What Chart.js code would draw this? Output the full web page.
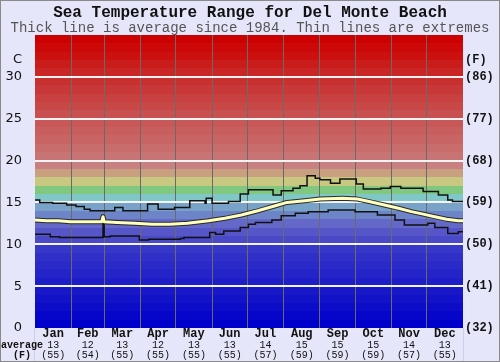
<!DOCTYPE html>
<html>
<head>
<meta charset="utf-8">
<script src="https://cdn.jsdelivr.net/npm/chart.js@4.4.0/dist/chart.umd.min.js"></script>
<style>
  html, body { margin: 0; padding: 0; background: #e6e6fa; }
  canvas { display: block; }
</style>
</head>
<body>
<canvas id="graph" width="500" height="362"></canvas>
<script>
// month labels and the monthly averages printed under them
const months = ['Jan', 'Feb', 'Mar', 'Apr', 'May', 'Jun', 'Jul', 'Aug', 'Sep', 'Oct', 'Nov', 'Dec'];
const monthAvgC = [13, 12, 13, 12, 13, 13, 14, 15, 15, 15, 14, 13];
const monthAvgF = [55, 54, 55, 55, 55, 55, 57, 59, 59, 59, 57, 55];
const monthStartDays = [0, 31, 59, 90, 120, 151, 181, 212, 243, 273, 304, 334, 365];

// axis ticks
const celsiusTicks = [0, 5, 10, 15, 20, 25, 30];
const fahrenheitTicks = [32, 41, 50, 59, 68, 77, 86];

// highest recorded (step line: value holds from the given day)
const maxDays  = [0, 4, 15, 27, 35, 42, 47, 68, 75, 96, 105, 119, 132, 145, 146, 151, 165, 175, 182, 203, 210, 220, 226, 232, 239, 243, 252, 260, 274, 280, 295, 303, 312, 331, 344, 352, 356, 365];
const maxTemps = [15.3, 15.0, 14.9, 14.7, 14.5, 14.2, 14.0, 14.4, 14.0, 14.8, 14.2, 14.4, 15.2, 14.9, 15.5, 14.9, 15.1, 16.0, 16.5, 15.9, 16.4, 16.7, 17.0, 18.2, 17.9, 17.7, 17.3, 17.8, 17.2, 16.6, 16.7, 16.9, 16.7, 16.3, 15.9, 15.3, 15.1, 15.1];

// lowest recorded
const minDays  = [0, 13, 21, 50, 58, 59, 64, 89, 97, 124, 127, 149, 154, 161, 175, 182, 188, 202, 210, 222, 233, 250, 273, 292, 307, 315, 335, 341, 352, 361, 365];
const minTemps = [11.2, 10.9, 10.8, 10.8, 12.4, 10.9, 11.0, 10.5, 10.6, 10.7, 10.8, 11.4, 11.2, 11.6, 12.0, 12.4, 12.6, 12.9, 13.4, 13.7, 13.9, 14.1, 13.9, 13.5, 12.9, 12.3, 12.5, 12.0, 11.3, 11.5, 11.5];

// average since 1984
const avgDays  = [0, 10, 20, 30, 45, 57, 58, 59, 70, 85, 100, 115, 130, 148, 162, 176, 190, 205, 215, 230, 243, 262, 275, 285, 298, 310, 321, 331, 341, 351, 361, 365];
const avgTemps = [12.9, 12.8, 12.8, 12.7, 12.7, 12.7, 13.3, 12.7, 12.6, 12.5, 12.4, 12.4, 12.5, 12.8, 13.1, 13.5, 14.0, 14.6, 15.0, 15.2, 15.4, 15.5, 15.4, 15.1, 14.7, 14.3, 13.9, 13.6, 13.3, 13.0, 12.8, 12.8];

// background colour for each 1 degree band, 0..35 C
const bandColors = [
  '#0000cc', '#0606ca', '#0c0cc9', '#1212c8', '#1818c8',
  '#1e1ec8', '#2424c8', '#2a2ac8', '#3030c8', '#3838c8',
  '#4a4ac8', '#5656c8', '#6468c8', '#6e84c8', '#78a2c8',
  '#80c8c8', '#80c880', '#c8c880', '#c8a080', '#c88080',
  '#c87474', '#c86c6c', '#c86464', '#c85e5e', '#c85858',
  '#c85050', '#c84848', '#c84040', '#c83838', '#c83030',
  '#ca2626', '#cb1c1c', '#cc1010', '#cc0808', '#cc0000'
];

const pts = (days, vals) => days.map((d, i) => ({ x: d, y: vals[i] }));
const monthMids = months.map((m, i) => (monthStartDays[i] + monthStartDays[i + 1]) / 2);
const cToF = {};
celsiusTicks.forEach((c, i) => { cToF[c] = fahrenheitTicks[i]; });

const bgPlugin = {
  id: 'bands',
  beforeDraw(chart) {
    const { ctx, chartArea: a, scales: { y } } = chart;
    ctx.save();
    ctx.fillStyle = '#e6e6fa';
    ctx.fillRect(0, 0, chart.width, chart.height);
    bandColors.forEach((c, i) => {
      const top = Math.round(y.getPixelForValue(i + 1));
      const bot = Math.round(y.getPixelForValue(i));
      ctx.fillStyle = c;
      ctx.fillRect(a.left, top, a.right - a.left, bot - top);
    });
    ctx.restore();
  },
  afterDraw(chart) {
    const { ctx, chartArea: a } = chart;
    ctx.save();
    ctx.strokeStyle = '#cfcfe6';
    ctx.lineWidth = 1;
    ctx.beginPath();
    ctx.moveTo(a.left - 0.5, a.bottom); ctx.lineTo(a.left - 0.5, chart.height);
    ctx.moveTo(a.right + 0.5, a.bottom); ctx.lineTo(a.right + 0.5, chart.height);
    ctx.stroke();
    ctx.fillStyle = '#111';
    ctx.font = 'bold 10px "Liberation Mono"';
    ctx.textAlign = 'center';
    ctx.textBaseline = 'middle';
    ctx.fillText('average', 22, 345);
    ctx.fillText('(F)', 22, 355);
    ctx.strokeStyle = '#8a8a8a';
    ctx.strokeRect(0.5, 0.5, chart.width - 1, chart.height - 1);
    ctx.restore();
  }
};

const lineBase = { pointRadius: 0, fill: false, xAxisID: 'x', yAxisID: 'y' };

new Chart('graph', {
  type: 'line',
  data: {
    datasets: [
      { ...lineBase, label: 'avg', data: pts(avgDays, avgTemps), borderColor: '#ffffbe', borderWidth: 3, borderJoinStyle: 'round', order: 0 },
      { ...lineBase, label: 'avg edge', data: pts(avgDays, avgTemps), borderColor: '#2a2a2a', borderWidth: 5, borderJoinStyle: 'round', order: 1 },
      { ...lineBase, label: 'max', data: pts(maxDays, maxTemps), stepped: true, borderColor: '#111', borderWidth: 1.5, order: 2 },
      { ...lineBase, label: 'min', data: pts(minDays, minTemps), stepped: true, borderColor: '#111', borderWidth: 1.5, order: 2 }
    ]
  },
  options: {
    responsive: false,
    animation: false,
    devicePixelRatio: 1,
    events: [],
    layout: { padding: 0 },
    plugins: {
      legend: { display: false },
      tooltip: { enabled: false },
      title: {
        display: true,
        text: 'Sea Temperature Range for Del Monte Beach',
        color: '#111',
        font: { family: '"Liberation Mono", monospace', size: 16, weight: 'bold', lineHeight: 1 },
        padding: { top: 5, bottom: 0 }
      },
      subtitle: {
        display: true,
        text: 'Thick line is average since 1984. Thin lines are extremes',
        color: '#555',
        font: { family: '"Liberation Mono", monospace', size: 14, lineHeight: 1 },
        padding: { top: 0, bottom: 0 }
      }
    },
    scales: {
      x: {
        type: 'linear', position: 'bottom', min: 0, max: 365, weight: 0,
        afterBuildTicks: s => { s.ticks = monthMids.map(v => ({ value: v })); },
        afterFit: s => { s.height = 12; },
        ticks: {
          autoSkip: false, maxRotation: 0, padding: 0, color: '#111',
          font: { family: '"Liberation Mono", monospace', size: 12, weight: 'bold', lineHeight: 1 },
          callback: (v, i) => months[i]
        },
        grid: { display: false, drawTicks: false },
        border: { display: false }
      },
      xv: {
        type: 'linear', position: 'bottom', min: 0, max: 365, weight: 1,
        afterBuildTicks: s => { s.ticks = monthMids.map(v => ({ value: v })); },
        afterFit: s => { s.height = 22; },
        ticks: {
          autoSkip: false, maxRotation: 0, padding: 0, color: '#111',
          font: { family: '"Liberation Mono", monospace', size: 10, lineHeight: 1 },
          callback: (v, i) => [String(monthAvgC[i]), '(' + monthAvgF[i] + ')']
        },
        grid: { display: false, drawTicks: false },
        border: { display: false }
      },
      xg: {
        type: 'linear', position: 'bottom', min: 0, max: 365, weight: 2,
        afterBuildTicks: s => { s.ticks = monthStartDays.slice(1, 12).map(v => ({ value: v })); },
        afterFit: s => { s.height = 0; },
        ticks: { display: false },
        grid: { color: '#6a6a6a', lineWidth: 1, drawTicks: false },
        border: { display: false }
      },
      y: {
        type: 'linear', position: 'left', min: 0, max: 35,
        afterBuildTicks: s => { s.ticks = celsiusTicks.concat([32]).map(v => ({ value: v })); },
        afterFit: s => { s.width = 35; },
        ticks: {
          padding: 13, color: '#111',
          font: { family: '"DejaVu Sans", sans-serif', size: 13 },
          callback: v => (v === 32 ? 'C' : String(v))
        },
        grid: {
          drawTicks: false, lineWidth: 2,
          color: c => (c.tick && c.tick.value > 0 && c.tick.value <= 30 ? '#f4f4f4' : 'rgba(0,0,0,0)')
        },
        border: { display: false }
      },
      y2: {
        type: 'linear', position: 'right', min: 0, max: 35,
        afterBuildTicks: s => { s.ticks = celsiusTicks.concat([32]).map(v => ({ value: v })); },
        afterFit: s => { s.width = 37; },
        ticks: {
          padding: 2, color: '#111',
          font: { family: '"Liberation Mono", monospace', size: 12, weight: 'bold' },
          callback: v => (v === 32 ? '(F)' : '(' + cToF[v] + ')')
        },
        grid: { display: false, drawTicks: false },
        border: { display: false }
      }
    }
  },
  plugins: [bgPlugin]
});
</script>
</body>
</html>
